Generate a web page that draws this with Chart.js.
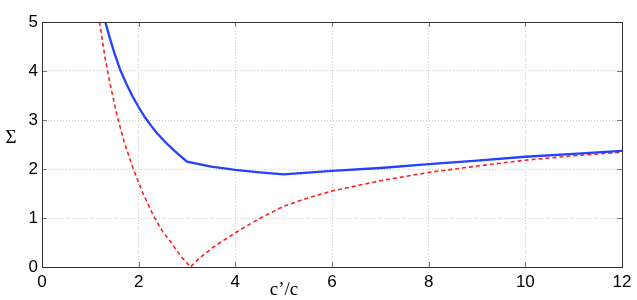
<!DOCTYPE html>
<html>
<head>
<meta charset="utf-8">
<script src="https://cdn.jsdelivr.net/npm/chart.js@4"></script>
<style>
html,body{margin:0;padding:0;background:#fff;}
#wrap{width:637px;height:300px;position:relative;}
</style>
</head>
<body>
<div id="wrap"><canvas id="c" width="637" height="300"></canvas></div>
<script>
// x values (c'/c) and Σ values
const blueX = [1.31, 1.4, 1.5, 1.62, 1.75, 1.88, 2.0, 2.14, 2.26, 2.38, 2.55, 2.72, 2.86, 3.0, 3.5, 4.0, 4.5, 5.0, 6.0, 7.0, 8.0, 9.0, 10.0, 11.0, 12.0];
const blueY = [5.0, 4.68, 4.36, 4.02, 3.73, 3.47, 3.26, 3.04, 2.88, 2.73, 2.55, 2.39, 2.27, 2.15, 2.05, 1.98, 1.93, 1.89, 1.96, 2.02, 2.10, 2.17, 2.25, 2.31, 2.37];
const redX = [1.19, 1.3, 1.4, 1.55, 1.7, 1.9, 2.1, 2.31, 2.5, 2.65, 2.85, 3.07, 3.28, 3.55, 4.0, 4.52, 5.0, 5.5, 6.0, 7.0, 8.0, 9.0, 10.0, 11.0, 12.0];
const redY = [5.0, 4.3, 3.78, 3.1, 2.55, 1.97, 1.48, 1.04, 0.72, 0.53, 0.25, 0.0, 0.2, 0.41, 0.70, 1.0, 1.24, 1.41, 1.55, 1.76, 1.93, 2.06, 2.18, 2.27, 2.34];
const xTicks = [0, 2, 4, 6, 8, 10, 12];
const yTicks = [0, 1, 2, 3, 4, 5];
const xTitle = "c\u2019/c";
const yTitle = "\u03A3";

const toPts = (xs, ys) => xs.map((x, i) => ({x: x, y: ys[i]}));

const frame = {
  id: 'frame',
  afterDraw(chart) {
    const {ctx, chartArea: a, scales} = chart;
    ctx.save();
    // inward tick marks
    ctx.strokeStyle = '#777';
    ctx.lineWidth = 1;
    ctx.beginPath();
    xTicks.forEach(v => {
      const px = Math.round(scales.x.getPixelForValue(v)) + 0.5;
      ctx.moveTo(px, a.bottom); ctx.lineTo(px, a.bottom - 5);
      ctx.moveTo(px, a.top); ctx.lineTo(px, a.top + 5);
    });
    yTicks.forEach(v => {
      const py = Math.round(scales.y.getPixelForValue(v)) + 0.5;
      ctx.moveTo(a.left, py); ctx.lineTo(a.left + 5, py);
      ctx.moveTo(a.right, py); ctx.lineTo(a.right - 5, py);
    });
    ctx.stroke();
    // box
    ctx.strokeStyle = '#333';
    ctx.lineWidth = 1;
    ctx.strokeRect(Math.round(a.left) + 0.5, Math.round(a.top) + 0.5, Math.round(a.right - a.left), Math.round(a.bottom - a.top));
    // titles
    ctx.fillStyle = '#000';
    ctx.font = '19px "Liberation Serif", serif';
    ctx.textAlign = 'center';
    ctx.textBaseline = 'alphabetic';
    ctx.fillText(xTitle, 284, 295);
    ctx.fillText(yTitle, 11, 143);
    ctx.restore();
  }
};

new Chart(document.getElementById('c'), {
  type: 'line',
  data: {
    datasets: [
      {
        data: toPts(blueX, blueY),
        borderColor: 'rgb(35,65,255)',
        borderWidth: 2.3,
        pointRadius: 0,
        tension: 0,
        fill: false
      },
      {
        data: toPts(redX, redY),
        borderColor: 'rgb(255,30,30)',
        borderWidth: 1.6,
        borderDash: [4, 3],
        pointRadius: 0,
        tension: 0,
        fill: false
      }
    ]
  },
  options: {
    responsive: false,
    animation: false,
    devicePixelRatio: 1,
    layout: {padding: {top: 22, right: 15, bottom: 0, left: 0}},
    plugins: {legend: {display: false}, tooltip: {enabled: false}},
    scales: {
      x: {
        type: 'linear',
        min: 0, max: 12,
        afterBuildTicks(s) { s.ticks = xTicks.map(v => ({value: v})); },
        afterFit(s) { s.height = 33; },
        grid: {color: '#c8c8c8', lineWidth: 1, drawTicks: false},
        border: {display: false, dash: [1, 2]},
        ticks: {color: '#000', font: {family: '"Liberation Sans", Arial, sans-serif', size: 17}, padding: 5, maxRotation: 0}
      },
      y: {
        type: 'linear',
        min: 0, max: 5,
        afterBuildTicks(s) { s.ticks = yTicks.map(v => ({value: v})); },
        afterFit(s) { s.width = 42; },
        grid: {color: '#c8c8c8', lineWidth: 1, drawTicks: false},
        border: {display: false, dash: [1, 2]},
        ticks: {color: '#000', font: {family: '"Liberation Sans", Arial, sans-serif', size: 17}, padding: 4}
      }
    }
  },
  plugins: [frame]
});
</script>
</body>
</html>
